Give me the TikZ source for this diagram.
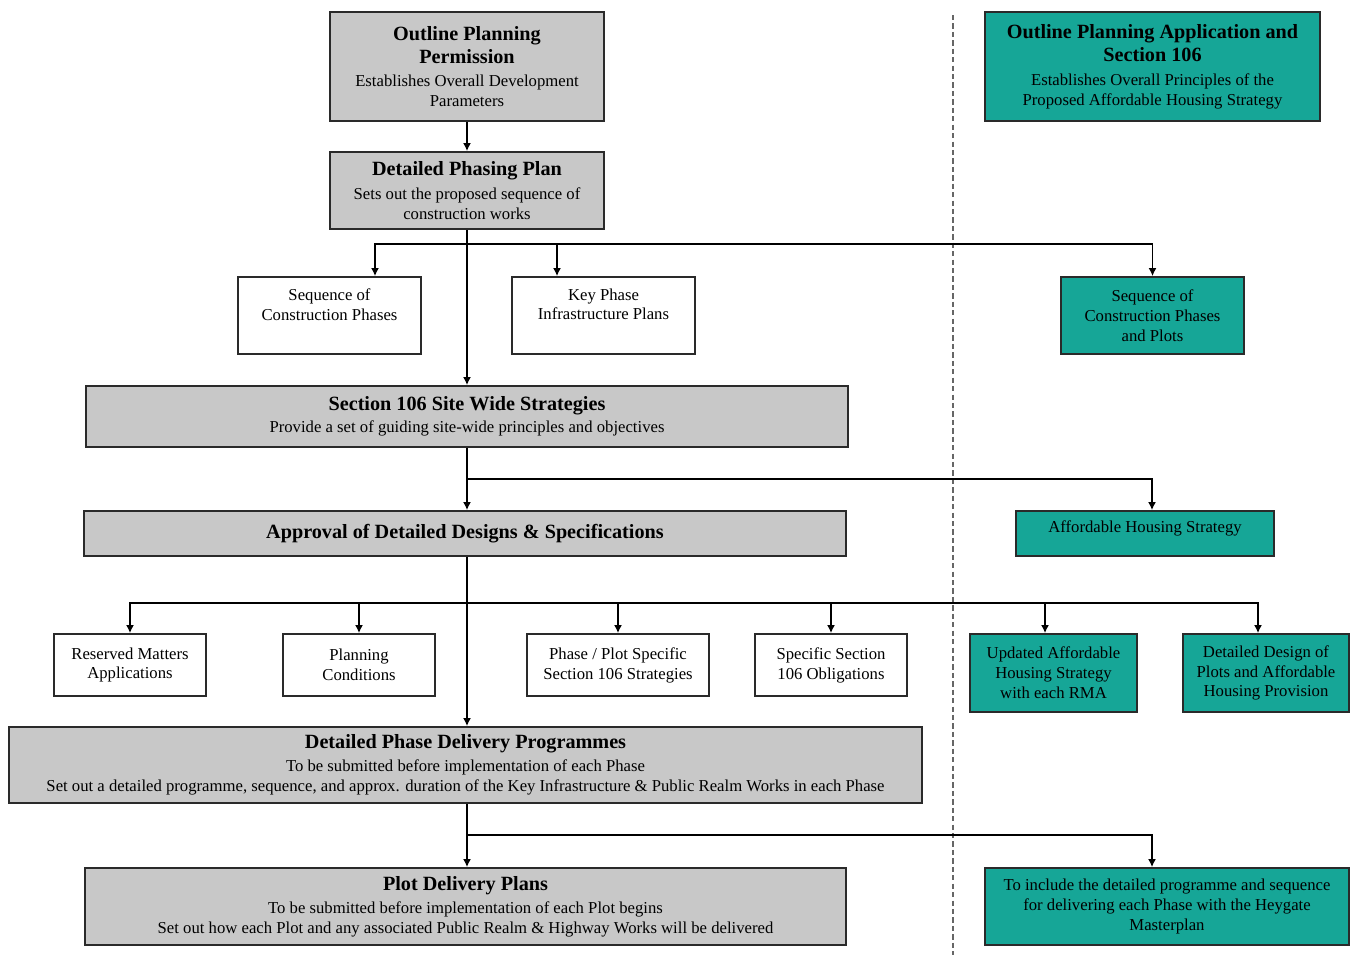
\documentclass[tikz,border=0pt]{standalone}
\usepackage{fontspec}
\setmainfont{Liberation Serif}
\usetikzlibrary{arrows.meta,calc}
\definecolor{boxgray}{HTML}{C8C8C8}
\definecolor{boxteal}{HTML}{16A697}
\definecolor{edge}{HTML}{2A2A2A}
\newcommand\ttl[1]{{\fontsize{11.5}{13.6}\selectfont\bfseries #1}}
\begin{document}
\begin{tikzpicture}[x=0.02cm,y=-0.02cm,
  base/.style={draw=edge,line width=1.1pt,align=center,inner sep=1pt,
    font=\fontsize{9.5}{11.3}\selectfont},
  gbox/.style={base,fill=boxgray},
  wbox/.style={base,fill=white},
  tbox/.style={base,fill=boxteal},
  arr/.style={draw=black,line width=0.8pt,-{Latex[length=4.5pt,width=4.5pt]}},
  divider/.style={draw=gray!80!black,line width=0.8pt,dash pattern=on 3pt off 1.8pt}]
\useasboundingbox (0,0) rectangle (1351,958);
\fill[white] (0,0) rectangle (1351,958);

% left column
\node[gbox,minimum width=5.48cm,minimum height=2.18cm] (opp) at (467,66.5)
  {\ttl{Outline Planning}\\[2pt]\ttl{Permission}\\[2pt]Establishes Overall Development\\Parameters};
\node[gbox,minimum width=5.48cm,minimum height=1.54cm] (dpp) at (467,190.5)
  {\ttl{Detailed Phasing Plan}\\[2pt]Sets out the proposed sequence of\\construction works};
\node[wbox,minimum width=3.66cm,minimum height=1.54cm] (seq) at (329.5,315.5)
  {Sequence of\\Construction Phases\\[1.5pt]};
\node[wbox,minimum width=3.66cm,minimum height=1.54cm] (key) at (603.5,315.5)
  {Key Phase\\Infrastructure Plans\\[1.5pt]};
\node[gbox,minimum width=15.24cm,minimum height=1.22cm] (s106) at (467,416.5)
  {\ttl{Section 106 Site Wide Strategies}\\[1.5pt]Provide a set of guiding site-wide principles and objectives};
\node[gbox,minimum width=15.24cm,minimum height=0.9cm] (appr) at (465,533.5)
  {\ttl{Approval of Detailed Designs \& Specifications}};
\node[wbox,minimum width=3.04cm,minimum height=1.24cm] (rm) at (130,665)
  {Reserved Matters\\Applications};
\node[wbox,minimum width=3.04cm,minimum height=1.24cm] (pc) at (359,665)
  {Planning\\Conditions};
\node[wbox,minimum width=3.64cm,minimum height=1.24cm] (pp) at (618,665)
  {Phase / Plot Specific\\Section 106 Strategies};
\node[wbox,minimum width=3.04cm,minimum height=1.24cm] (ss) at (831,665)
  {Specific Section\\106 Obligations};
\node[gbox,minimum width=18.26cm,minimum height=1.52cm] (dpdp) at (465.5,765)
  {\ttl{Detailed Phase Delivery Programmes}\\[2pt]To be submitted before implementation of each Phase\\Set out a detailed programme, sequence, and approx. duration of the Key Infrastructure \& Public Realm Works in each Phase};
\node[gbox,minimum width=15.22cm,minimum height=1.54cm] (pdp) at (465.5,906.5)
  {\ttl{Plot Delivery Plans}\\[2pt]To be submitted before implementation of each Plot begins\\Set out how each Plot and any associated Public Realm \& Highway Works will be delivered};

% right column
\node[tbox,minimum width=6.7cm,minimum height=2.18cm] (tt) at (1152.5,66.5)
  {\ttl{Outline Planning Application and}\\[2pt]\ttl{Section 106}\\[2pt]Establishes Overall Principles of the\\Proposed Affordable Housing Strategy};
\node[tbox,minimum width=3.66cm,minimum height=1.54cm] (tseq) at (1152.5,315.5)
  {Sequence of\\Construction Phases\\and Plots};
\node[tbox,minimum width=5.16cm,minimum height=0.9cm,text depth=8pt] (ahs) at (1145,533.5)
  {Affordable Housing Strategy};
\node[tbox,minimum width=3.34cm,minimum height=1.56cm] (ua) at (1053.5,673)
  {Updated Affordable\\Housing Strategy\\with each RMA};
\node[tbox,minimum width=3.32cm,minimum height=1.56cm] (dd) at (1266,673)
  {Detailed Design of\\Plots and Affordable\\Housing Provision};
\node[tbox,minimum width=7.28cm,minimum height=1.54cm] (tf) at (1167,906.5)
  {To include the detailed programme and sequence\\for delivering each Phase with the Heygate\\Masterplan};

% divider
\coordinate (d1) at (953,15);
\coordinate (d2) at (953,955);
\draw[divider] (d1) -- (d2);

% junctions
\coordinate (j1) at (467,244);
\coordinate (j2) at (467,479);
\coordinate (j3) at (467,603);
\coordinate (j4) at (467,835);

% connectors
\draw[arr] (opp.south) -- (dpp.north);
\draw[arr] (dpp.south) -- (s106.north);
\draw[arr] (j1) -| ([xshift=0.91cm]seq.north);
\draw[arr] (j1) -| ([xshift=-0.93cm]key.north);
\draw[arr] (j1) -| (tseq.north);

\draw[arr] (s106.south) -- (s106.south |- appr.north);
\draw[arr] (j2) -| ([xshift=0.14cm]ahs.north);

\draw[arr] (s106.south |- appr.south) -- (s106.south |- dpdp.north);
\draw[arr] (j3) -| (rm.north);
\draw[arr] (j3) -| (pc.north);
\draw[arr] (j3) -| (pp.north);
\draw[arr] (j3) -| (ss.north);
\draw[arr] (j3) -| ([xshift=-0.17cm]ua.north);
\draw[arr] (j3) -| ([xshift=-0.16cm]dd.north);

\draw[arr] (s106.south |- dpdp.south) -- (s106.south |- pdp.north);
\draw[arr] (j4) -| ([xshift=-0.3cm]tf.north);
\end{tikzpicture}
\end{document}
